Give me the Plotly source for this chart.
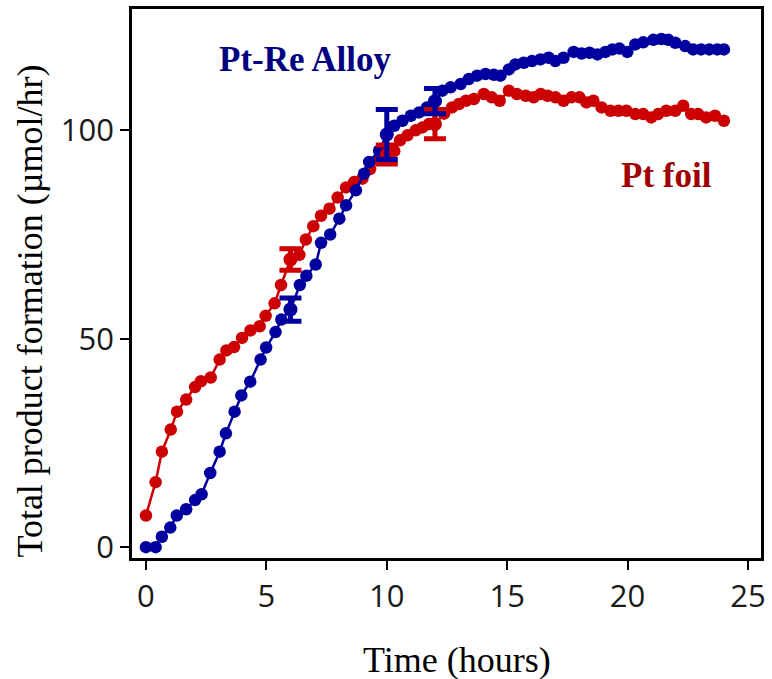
import plotly.graph_objects as go

# ---- data ----
blue_t = [0, 0.40, 0.66, 1.01, 1.28, 1.67, 2.04, 2.31, 2.67, 3.06,
          3.32, 3.68, 3.96, 4.33, 4.76, 4.99, 5.38, 5.62, 6.00, 6.39,
          6.66, 7.05, 7.27, 7.65, 8.03, 8.31, 8.72, 9.06, 9.27, 9.68,
          10.00, 10.31, 10.65, 11.00, 11.34, 11.67, 12.00, 12.31, 12.65, 13.07,
          13.41, 13.75, 14.10, 14.45, 14.72, 15.07, 15.34, 15.69, 16.03, 16.38,
          16.72, 17.00, 17.34, 17.76, 18.09, 18.42, 18.75, 19.08, 19.37, 19.66,
          19.99, 20.32, 20.65, 21.07, 21.40, 21.69, 21.98, 22.39, 22.72, 23.05,
          23.39, 23.72, 24.0]
blue_v = [0, 0, 2.5, 4.7, 7.6, 9.1, 11.3, 12.7, 17.8, 22.9,
          27.3, 32.5, 36.4, 39.7, 45, 47.9, 51.6, 54.6, 57, 62.9,
          65.1, 67.8, 73, 75, 78.8, 82, 85.6, 89.6, 92.4, 95.1,
          99, 101.1, 102.3, 103.5, 104.3, 105.5, 107, 109.5, 110.3, 111.1,
          112.3, 113.1, 113.5, 113.3, 113.1, 114.6, 115.8, 116.2, 116.6, 117,
          117.4, 116.6, 117.4, 118.8, 118.4, 118.6, 118.2, 118.8, 119.4, 119.6,
          118.8, 120.6, 121.1, 121.7, 121.9, 121.7, 121, 120.2, 119.4, 119.4,
          119.4, 119.4, 119.4]

red_t = [0, 0.40, 0.66, 1.03, 1.29, 1.67, 2.04, 2.28, 2.69, 3.06,
         3.34, 3.66, 3.99, 4.34, 4.72, 4.97, 5.34, 5.61, 6.00, 6.37,
         6.64, 6.95, 7.27, 7.62, 7.96, 8.31, 8.65, 8.99, 9.31, 9.69,
         10.00, 10.31, 10.55, 10.86, 11.20, 11.48, 11.75, 12.00, 12.38, 12.71,
         13.00, 13.29, 13.62, 14.03, 14.36, 14.69, 15.07, 15.40, 15.77, 16.10,
         16.39, 16.68, 17.01, 17.34, 17.67, 18.00, 18.29, 18.58, 18.92, 19.29,
         19.62, 19.95, 20.32, 20.65, 20.98, 21.27, 21.61, 21.98, 22.31, 22.64,
         22.93, 23.26, 23.63, 24.0]
red_v = [7.6, 15.6, 22.9, 28.2, 32.5, 35.4, 38.4, 39.8, 40.7, 45.0,
         47.2, 48.0, 50.2, 52, 53, 55.5, 58.5, 62.9, 69, 70.1,
         73.8, 77, 79.5, 81.2, 83.9, 86.3, 87.6, 88.4, 90.7, 93,
         94.2, 95, 97.6, 98.8, 100, 100.7, 101.5, 101.5, 104, 105.5,
         106.3, 107.1, 107.5, 108.7, 107.9, 107.1, 109.5, 108.7, 108.3, 107.9,
         108.7, 108.3, 107.9, 107.1, 107.9, 107.9, 106.7, 107.1, 105.5, 104.7,
         104.7, 104.7, 103.9, 103.9, 103.1, 103.9, 104.7, 104.7, 105.9, 103.9,
         103.9, 103.1, 103.5, 102.3]

err_t = [6, 10, 12]
blue_err_v = [57, 99, 107]
blue_err = [2.8, 6.0, 3.0]
red_err_v = [69, 94.2, 101.5]
red_err = [2.6, 2.3, 3.5]

x_ticks = [0, 5, 10, 15, 20, 25]
y_ticks = [0, 50, 100]

BLUE = "#00009E"
RED = "#CC0000"

fig = go.Figure()
fig.add_trace(go.Scatter(x=red_t, y=red_v, mode="lines+markers",
                         line=dict(color=RED, width=2.5),
                         marker=dict(color=RED, size=12.5), showlegend=False))
fig.add_trace(go.Scatter(x=blue_t, y=blue_v, mode="lines+markers",
                         line=dict(color=BLUE, width=2.5),
                         marker=dict(color=BLUE, size=12.5), showlegend=False))
fig.add_trace(go.Scatter(x=err_t, y=red_err_v, mode="markers",
                         marker=dict(color=RED, size=14),
                         error_y=dict(type="data", array=red_err, color=RED,
                                      thickness=5, width=11),
                         showlegend=False))
fig.add_trace(go.Scatter(x=err_t, y=blue_err_v, mode="markers",
                         marker=dict(color=BLUE, size=14),
                         error_y=dict(type="data", array=blue_err, color=BLUE,
                                      thickness=5, width=11),
                         showlegend=False))

axis_common = dict(showline=True, linecolor="black", linewidth=2.5, mirror=True,
                   ticks="outside", ticklen=9, tickwidth=2, tickcolor="black",
                   showgrid=False, zeroline=False,
                   tickfont=dict(family="Open Sans", size=31, color="#1a1a1a"))

fig.update_xaxes(range=[-0.58, 25.54], tickvals=x_ticks, **axis_common)
fig.update_yaxes(range=[-2.6, 129.1], tickvals=y_ticks, **axis_common)

fig.update_layout(
    width=772, height=679,
    margin=dict(l=132, r=9, t=6, b=121),
    paper_bgcolor="white", plot_bgcolor="white",
    annotations=[
        dict(text="Pt-Re Alloy", x=0.276, y=0.908, xref="paper", yref="paper",
             xanchor="center", yanchor="middle", showarrow=False,
             font=dict(family="Liberation Serif", size=35, color="#000080",
                       weight="bold")),
        dict(text="Pt foil", x=0.849, y=0.697, xref="paper", yref="paper",
             xanchor="center", yanchor="middle", showarrow=False,
             font=dict(family="Liberation Serif", size=35, color="#A00000",
                       weight="bold")),
        dict(text="Time (hours)", x=0.517, y=-0.185, xref="paper", yref="paper",
             xanchor="center", yanchor="middle", showarrow=False,
             font=dict(family="Liberation Serif", size=36, color="black")),
        dict(text="Total product formation (µmol/hr)", x=-0.162, y=0.449,
             xref="paper", yref="paper", textangle=-90,
             xanchor="center", yanchor="middle", showarrow=False,
             font=dict(family="Liberation Serif", size=36, color="black")),
    ],
)

fig.write_html("out.html")
